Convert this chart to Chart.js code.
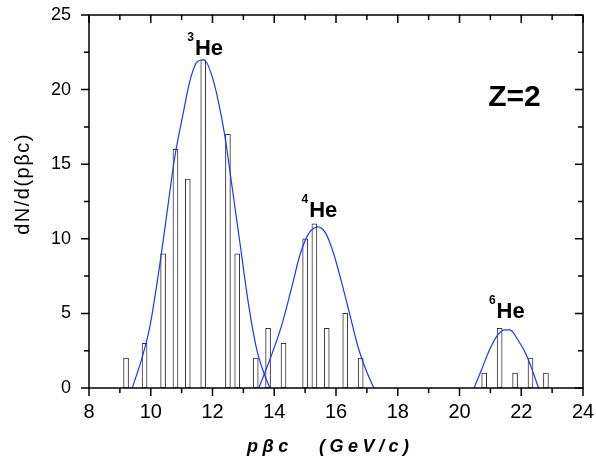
<!DOCTYPE html>
<html>
<head>
<meta charset="utf-8">
<script src="https://cdn.jsdelivr.net/npm/chart.js@4"></script>
<style>
  html, body { margin: 0; padding: 0; background: #fff; }
  #wrap { width: 596px; height: 461px; }
</style>
</head>
<body>
<div id="wrap"><canvas id="histChart" width="596" height="461"></canvas></div>
<script>
// histogram bins (p*beta*c, counts)
const barX = [9.2, 9.8, 10.4, 10.8, 11.2, 11.7, 12.5, 12.8, 13.4, 13.8, 14.3, 15.0, 15.3, 15.7, 16.3, 16.8, 20.8, 21.3, 21.8, 22.3, 22.8];
const barY = [2, 3, 9, 16, 14, 22, 17, 9, 2, 4, 3, 10, 11, 4, 5, 2, 1, 4, 1, 2, 1];

// fitted curves, points
const he3X = [9.40, 9.70, 9.97, 10.33, 10.51, 10.78, 11.05, 11.27, 11.52, 11.73, 11.97, 12.18, 12.40, 12.62, 12.89, 13.16, 13.43, 13.70, 13.86];
const he3Y = [0, 1.9, 4.1, 8.8, 11.5, 15.5, 18.4, 20.6, 21.9, 22.0, 21.0, 19.3, 16.9, 13.7, 9.7, 5.7, 2.6, 0.8, 0];
const he4X = [13.50, 13.91, 14.24, 14.56, 14.83, 15.10, 15.42, 15.66, 15.91, 16.18, 16.45, 16.72, 16.99, 17.23];
const he4Y = [0, 2.2, 4.2, 6.7, 8.9, 10.3, 10.8, 10.4, 9.1, 7.1, 4.9, 2.7, 1.1, 0];
const he6X = [20.47, 20.71, 20.98, 21.25, 21.46, 21.63, 21.90, 22.17, 22.39, 22.56];
const he6Y = [0, 1.2, 2.6, 3.6, 3.9, 3.9, 3.2, 2.2, 1.0, 0];

// axis ticks
const xMajor = [8, 10, 12, 14, 16, 18, 20, 22, 24];
const xMinor = [9, 11, 13, 15, 17, 19, 21, 23];
const yMajor = [0, 5, 10, 15, 20, 25];
const yMinor = [2.5, 7.5, 12.5, 17.5, 22.5];

// peak labels: [mass number, x, y] in data units
const peakLabels = [['3', 11.43, 22.3], ['4', 15.13, 11.48], ['6', 21.2, 4.67]];

const toPoints = (xs, ys) => xs.map((x, i) => ({ x: x, y: ys[i] }));
const curveColor = 'rgb(25,55,255)';

function curve(xs, ys) {
    return {
        type: 'line',
        data: toPoints(xs, ys),
        borderColor: curveColor,
        borderWidth: 1.2,
        pointRadius: 0,
        cubicInterpolationMode: 'monotone',
        fill: false,
        order: 0
    };
}

// no automatic room for the end tick labels
function noPad(scale) {
    scale.paddingTop = 0;
    scale.paddingBottom = 0;
    scale.paddingLeft = 0;
    scale.paddingRight = 0;
}

// frame, ticks, titles and labels
const decor = {
    id: 'decor',
    afterDraw(chart) {
        const ctx = chart.ctx;
        const a = chart.chartArea;
        const xs = chart.scales.x, ys = chart.scales.y;
        ctx.save();
        ctx.strokeStyle = '#000';
        ctx.lineWidth = 1.5;
        ctx.strokeRect(a.left, a.top, a.right - a.left, a.bottom - a.top);

        ctx.beginPath();
        const tickX = (v, len) => {
            const px = xs.getPixelForValue(v);
            ctx.moveTo(px, a.bottom); ctx.lineTo(px, a.bottom + len);
            ctx.moveTo(px, a.top); ctx.lineTo(px, a.top + len);
        };
        const tickY = (v, len) => {
            const py = ys.getPixelForValue(v);
            ctx.moveTo(a.left, py); ctx.lineTo(a.left - len, py);
            ctx.moveTo(a.right, py); ctx.lineTo(a.right - len, py);
        };
        xMajor.forEach(v => tickX(v, 8));
        xMinor.forEach(v => tickX(v, 5));
        yMajor.forEach(v => tickY(v, 8));
        yMinor.forEach(v => tickY(v, 5));
        ctx.stroke();

        ctx.fillStyle = '#000';
        // axis titles
        ctx.letterSpacing = '4.5px';
        ctx.font = 'bold italic 18px "Liberation Sans", Arial, sans-serif';
        ctx.textAlign = 'left';
        ctx.textBaseline = 'alphabetic';
        ctx.fillText('pβc', 247, 452);
        ctx.fillText('(GeV/c)', 319, 452);

        ctx.save();
        ctx.translate(29, 184);
        ctx.rotate(-Math.PI / 2);
        ctx.letterSpacing = '1.5px';
        ctx.font = '20px "Liberation Sans", Arial, sans-serif';
        ctx.textAlign = 'center';
        ctx.fillText('dN/d(pβc)', 0, 0);
        ctx.restore();

        ctx.letterSpacing = '0px';
        // peak labels
        peakLabels.forEach(([m, x, y]) => {
            const px = xs.getPixelForValue(x), py = ys.getPixelForValue(y);
            ctx.font = 'bold 22px "Liberation Sans", Arial, sans-serif';
            ctx.textAlign = 'left';
            ctx.fillText('He', px, py);
            ctx.font = 'bold 12px "Liberation Sans", Arial, sans-serif';
            ctx.textAlign = 'right';
            ctx.fillText(m, px - 1, py - 14);
        });

        ctx.font = 'bold 30px "Liberation Sans", Arial, sans-serif';
        ctx.textAlign = 'left';
        ctx.fillText('Z=2', xs.getPixelForValue(20.93), ys.getPixelForValue(18.9));
        ctx.restore();
    }
};

const ctx = document.getElementById('histChart').getContext('2d');
const histChart = new Chart(ctx, {
    type: 'bar',
    data: {
        datasets: [
            {
                type: 'bar',
                data: toPoints(barX, barY),
                backgroundColor: '#fff',
                borderColor: '#333',
                borderWidth: 1,
                borderSkipped: false,
                barThickness: 5,
                order: 1
            },
            curve(he3X, he3Y),
            curve(he4X, he4Y),
            curve(he6X, he6Y)
        ]
    },
    options: {
        responsive: false,
        animation: false,
        layout: { padding: { top: 15, right: 13, left: 0, bottom: 0 } },
        plugins: { legend: { display: false }, tooltip: { enabled: false } },
        scales: {
            x: {
                type: 'linear',
                min: 8,
                max: 24,
                offset: false,
                grid: { display: false, drawTicks: false, offset: false },
                border: { display: false },
                ticks: {
                    stepSize: 2,
                    padding: 12,
                    color: '#000',
                    font: { family: '"Liberation Sans", Arial, sans-serif', size: 20 }
                },
                afterFit(scale) { scale.height = 73; noPad(scale); }
            },
            y: {
                min: 0,
                max: 25,
                grid: { display: false, drawTicks: false },
                border: { display: false },
                ticks: {
                    stepSize: 5,
                    padding: 18,
                    color: '#000',
                    font: { family: '"Liberation Sans", Arial, sans-serif', size: 18 }
                },
                afterFit(scale) { scale.width = 89; noPad(scale); }
            }
        }
    },
    plugins: [decor]
});
</script>
</body>
</html>
